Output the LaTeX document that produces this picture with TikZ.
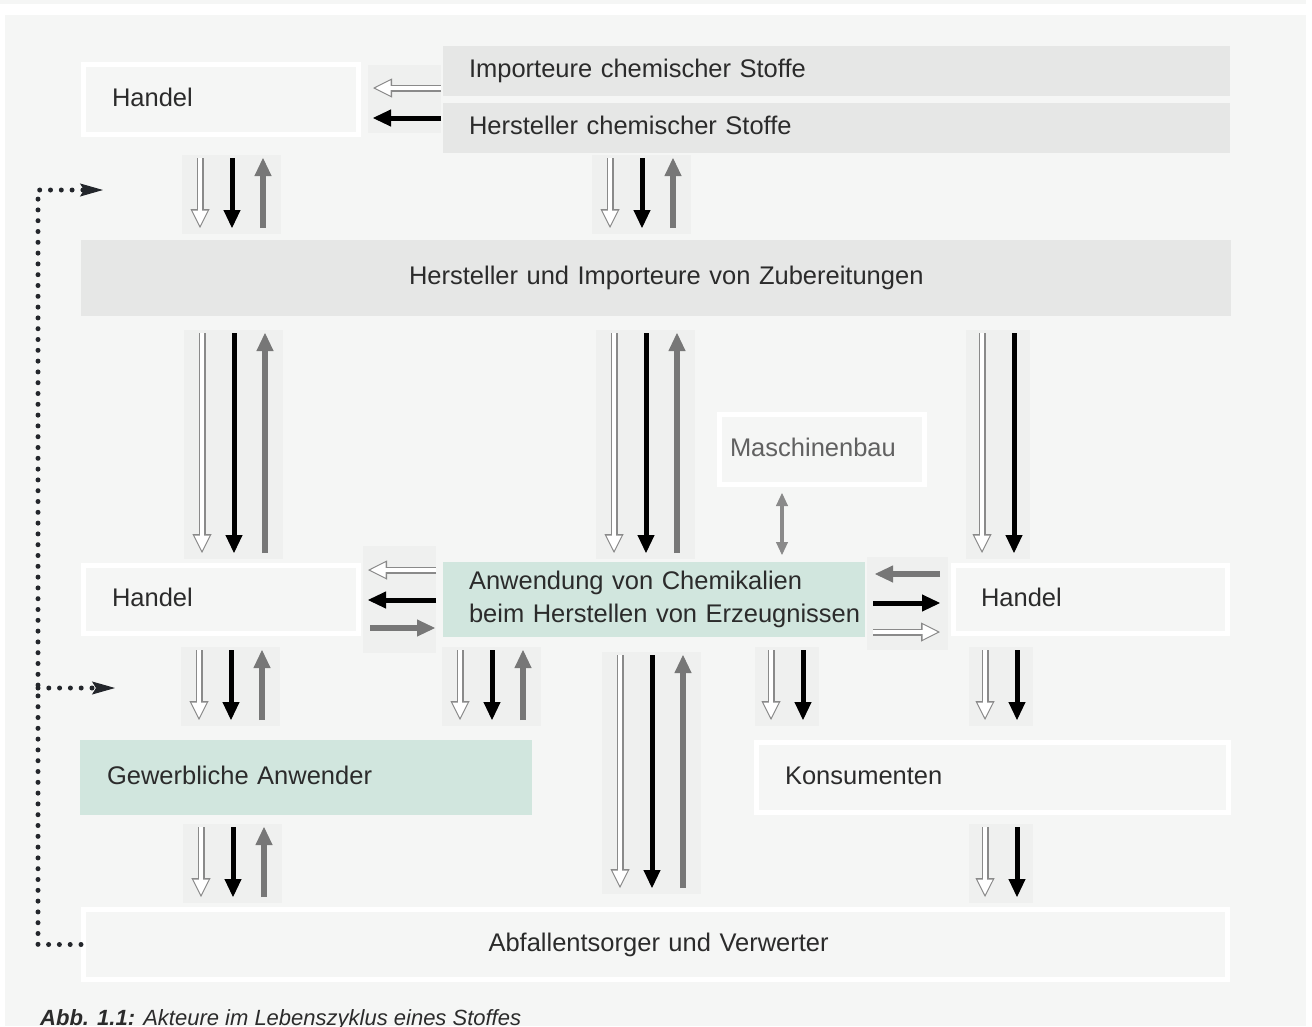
\documentclass[tikz,border=0pt]{standalone}
\usepackage{fontspec}
\setmainfont{Liberation Sans}
\usetikzlibrary{arrows.meta}

\definecolor{panelbg}{HTML}{F5F6F5}
\definecolor{greybox}{HTML}{E6E7E6}
\definecolor{greenbox}{HTML}{D1E6DE}
\definecolor{grpback}{HTML}{EFF0EF}
\definecolor{txt}{HTML}{2B2B2B}
\definecolor{hollowgrey}{HTML}{8A8A8A}
\definecolor{flowgrey}{HTML}{777777}
\definecolor{dotc}{HTML}{23262B}

\newcommand{\actfont}{\fontsize{25.5}{33}\selectfont}

\tikzset{
  wbox/.style={draw=white, line width=5pt, fill=panelbg, text=txt, font=\actfont, align=left},
  gbox/.style={fill=greybox, outer sep=0pt, text=txt, font=\actfont, align=left},
  grbox/.style={fill=greenbox, outer sep=0pt, text=txt, font=\actfont, align=left},
  oneline/.style={text height=18pt, text depth=5pt},
  hollowarr/.style={draw=hollowgrey, line width=7pt, -{Triangle[length=19pt,width=19pt,line width=1pt]},
    postaction={draw=white, line width=3.6pt, -{Triangle[length=15pt,width=15pt,line width=1pt,sep=2.5pt]}}},
  blackarr/.style={draw=black, line width=5pt, -{Triangle[length=18pt,width=17pt,line width=1pt]}},
  greyarr/.style={draw=flowgrey, line width=5.5pt, -{Triangle[length=18pt,width=17pt,line width=1pt]}},
  dblarr/.style={draw=hollowgrey, line width=3.5pt,
    {Triangle[length=13pt,width=12pt,line width=1pt]}-{Triangle[length=13pt,width=12pt,line width=1pt]}},
  grpbg/.style={draw=grpback},
  fbline/.style={draw=dotc, line width=5pt, line cap=round, dash pattern=on 0pt off 10.8pt},
  fbtip/.style={-{Stealth[length=23pt,width=13pt,inset=4pt,line width=1pt]}},
}

% three flows: hollow and black down, grey back up
\newcommand{\flowtrio}[5]{%
  \draw[grpbg, line width=99pt, shorten <=#4pt-3pt, shorten >=#5pt-6pt] ({#1+31.5},0 |- #2.south) -- ({#1+31.5},0 |- #3.north);
  \draw[hollowarr, shorten <=#4pt, shorten >=#5pt] (#1,0 |- #2.south) -- (#1,0 |- #3.north);
  \draw[blackarr, shorten <=#4pt, shorten >=#5pt] ({#1+32},0 |- #2.south) -- ({#1+32},0 |- #3.north);
  \draw[greyarr, shorten <=#5pt, shorten >=#4pt] ({#1+63},0 |- #3.north) -- ({#1+63},0 |- #2.south);
}
% two flows down only
\newcommand{\flowpair}[5]{%
  \draw[grpbg, line width=64pt, shorten <=#4pt-3pt, shorten >=#5pt-6pt] ({#1+16},0 |- #2.south) -- ({#1+16},0 |- #3.north);
  \draw[hollowarr, shorten <=#4pt, shorten >=#5pt] (#1,0 |- #2.south) -- (#1,0 |- #3.north);
  \draw[blackarr, shorten <=#4pt, shorten >=#5pt] ({#1+32},0 |- #2.south) -- ({#1+32},0 |- #3.north);
}

\begin{document}
\begin{tikzpicture}[x=1pt,y=-1pt]
\useasboundingbox (0,0) rectangle (1312,1026);
\fill[white] (0,0) rectangle (1312,1026);
\fill[panelbg] (0,0) rectangle (1306,4);
\fill[panelbg] (5,15) rectangle (1306,1026);

% actors
\node[wbox, oneline, minimum width=275pt, minimum height=70pt, inner xsep=28.5pt, text width=218pt] (handelO) at (221,99.5) {Handel};
\node[gbox, oneline, minimum width=787pt, minimum height=50pt, inner xsep=26pt, text width=735pt] (imp) at (836.5,71) {Importeure chemischer Stoffe};
\node[gbox, oneline, minimum width=787pt, minimum height=50pt, inner xsep=26pt, text width=735pt] (hcs) at (836.5,128) {Hersteller chemischer Stoffe};
\node[gbox, oneline, minimum width=1150pt, minimum height=76pt, inner xsep=328pt, text width=494pt] (zub) at (656,278) {\mbox{Hersteller und Importeure von Zubereitungen}};
\node[wbox, oneline, minimum width=205pt, minimum height=70pt, inner xsep=10.5pt, text width=184pt, text=black!62] (masch) at (822,449.5) {Maschinenbau};
\node[wbox, oneline, minimum width=275pt, minimum height=68pt, inner xsep=28.5pt, text width=218pt] (handelM) at (221,599.5) {Handel};
\node[grbox, minimum width=422pt, minimum height=75pt, inner xsep=26pt, text width=370pt] (anw) at (654,599.5) {\mbox{Anwendung von Chemikalien}\\\mbox{beim Herstellen von Erzeugnissen}};
\node[wbox, oneline, minimum width=274pt, minimum height=68pt, inner xsep=27.5pt, text width=219pt] (handelR) at (1090.5,599.5) {Handel};
\node[grbox, oneline, minimum width=452pt, minimum height=75pt, inner xsep=27pt, text width=398pt] (gew) at (306,777.5) {Gewerbliche Anwender};
\node[wbox, oneline, minimum width=472pt, minimum height=70pt, inner xsep=28.5pt, text width=415pt] (kons) at (992.5,777.5) {Konsumenten};
\node[wbox, oneline, minimum width=1144pt, minimum height=70pt, inner xsep=405pt, text width=334pt] (abf) at (655.5,944.5) {\mbox{Abfallentsorger und Verwerter}};

% sideways flows
\draw[grpbg, line width=68pt, shorten <=7pt, shorten >=2pt] (handelO.east |- 0,99) -- (imp.west |- 0,99);
\draw[hollowarr, shorten <=2pt, shorten >=12pt] (imp.west |- 0,88) -- (handelO.east |- 0,88);
\draw[blackarr, shorten <=2pt, shorten >=12pt] (hcs.west |- 0,118) -- (handelO.east |- 0,118);

\draw[grpbg, line width=107pt, shorten <=2pt, shorten >=7pt] (handelM.east |- 0,599.5) -- (anw.west |- 0,599.5);
\draw[hollowarr, shorten <=7pt, shorten >=7pt] (anw.west |- 0,570) -- (handelM.east |- 0,570);
\draw[blackarr, shorten <=7pt, shorten >=7pt] (anw.west |- 0,600) -- (handelM.east |- 0,600);
\draw[greyarr, shorten <=9pt, shorten >=8pt] (handelM.east |- 0,628) -- (anw.west |- 0,628);

\draw[grpbg, line width=93pt, shorten <=2pt, shorten >=3pt] (anw.east |- 0,603.5) -- (handelR.west |- 0,603.5);
\draw[greyarr, shorten <=11pt, shorten >=10pt] (handelR.west |- 0,574) -- (anw.east |- 0,574);
\draw[blackarr, shorten <=8pt, shorten >=11pt] (anw.east |- 0,603) -- (handelR.west |- 0,603);
\draw[hollowarr, shorten <=8pt, shorten >=11pt] (anw.east |- 0,632) -- (handelR.west |- 0,632);

\draw[dblarr, shorten <=6pt, shorten >=7pt] (782,0 |- masch.south) -- (782,0 |- anw.north);

% downward flows
\flowtrio{200}{handelO}{zub}{21}{12}
\flowtrio{610}{hcs}{zub}{5}{12}
\flowtrio{202}{zub}{handelM}{17}{10}
\flowtrio{614}{zub}{anw}{17}{9}
\flowpair{982}{zub}{handelR}{17}{10}
\flowtrio{199}{handelM}{gew}{14}{20}
\flowtrio{460}{anw}{gew}{13}{20}
\flowtrio{620}{anw}{abf}{18}{19}
\flowpair{771}{anw}{kons}{13}{20}
\flowpair{985}{handelR}{kons}{14}{20}
\flowtrio{201}{gew}{abf}{12}{10}
\flowpair{985}{kons}{abf}{12}{10}

% feedback from waste
\coordinate (fbx) at (38,190);
\coordinate (fbtop) at (103,190);
\coordinate (fbmid) at (115,688);
\draw[fbline, fbtip] (abf.west) -| (fbx) -- (fbtop);
\draw[fbline, fbtip] (fbx |- fbmid) -- (fbmid);

\node[anchor=base west, inner sep=0pt, text=txt, font=\fontsize{22}{26}\selectfont\itshape] (caption) at (40,1025) {\textbf{Abb. 1.1:} Akteure im Lebenszyklus eines Stoffes};
\end{tikzpicture}
\end{document}
